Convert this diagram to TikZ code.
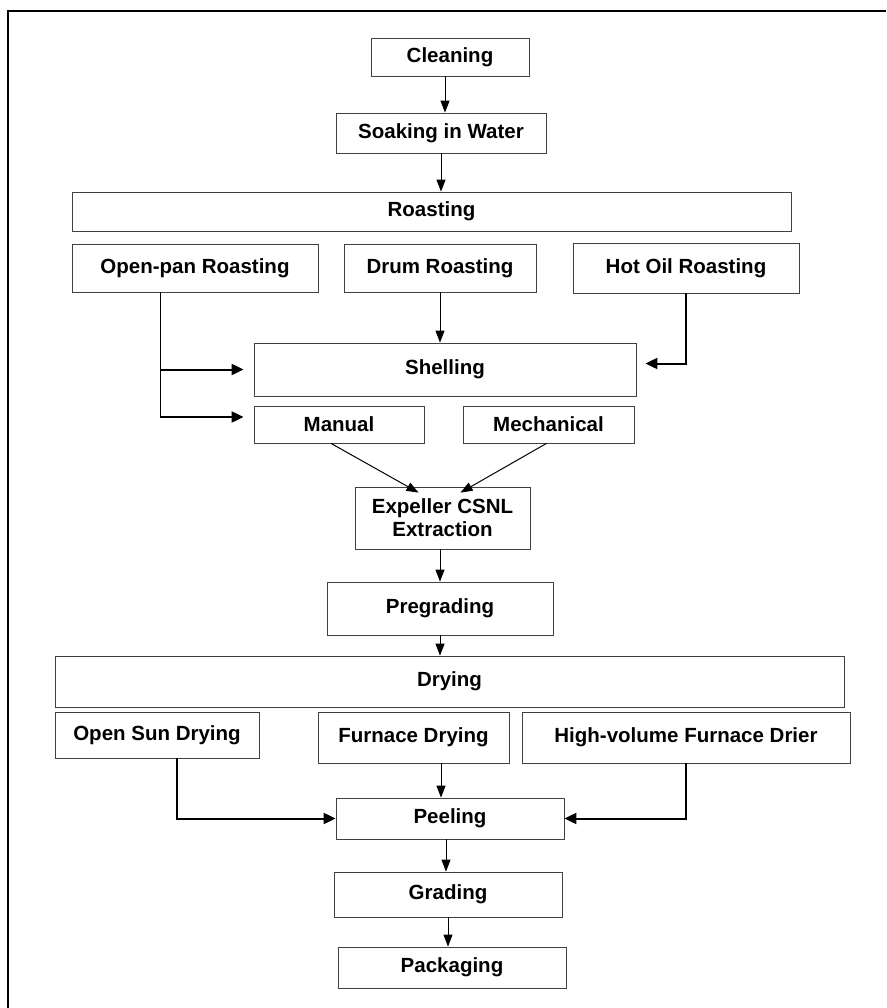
\documentclass[tikz,border=0pt]{standalone}
\usepackage{fontspec}
\setmainfont{Liberation Sans}
\usetikzlibrary{arrows.meta}

\tikzset{
  box/.style = {draw = black!75, line width = 0.8pt, inner sep = 0pt,
    font = \bfseries\fontsize{20.5}{23}\selectfont, align = center},
  arr/.style = {line width = 1pt, -{Triangle[length = 12pt, width = 9pt]}},
  wide/.style = {line width = 2pt, -{Triangle[length = 12pt, width = 11pt]}}
}

\begin{document}
\begin{tikzpicture}[x = 1pt, y = -1pt]
        \useasboundingbox (0, 0) rectangle (886, 1008);
        \draw [line width = 2.6pt] (8, 1008) -- (8, 11) -- (886, 11);

        \node (clean) at (450, 57) [box, minimum width = 158, minimum height = 38] {Cleaning};
        \node (soak) at (441, 133) [box, minimum width = 210, minimum height = 40] {Soaking in Water};
        \node (roast) at (431.5, 211.5) [box, minimum width = 719, minimum height = 39] {Roasting};
        \node (openpan) at (195, 268) [box, minimum width = 246, minimum height = 48] {Open-pan Roasting};
        \node (drum) at (440, 268) [box, minimum width = 192, minimum height = 48] {Drum Roasting};
        \node (hotoil) at (686, 268) [box, minimum width = 226, minimum height = 50] {Hot Oil Roasting};
        \node (shell) at (445, 369.5) [box, minimum width = 382, minimum height = 53] {Shelling};
        \node (manual) at (339, 424.5) [box, minimum width = 170, minimum height = 37] {Manual};
        \node (mech) at (548.5, 424.5) [box, minimum width = 171, minimum height = 37] {Mechanical};
        \node (expel) at (442.5, 518) [box, minimum width = 175, minimum height = 62] {Expeller CSNL\\Extraction};
        \node (pregrade) at (440, 608.5) [box, minimum width = 226, minimum height = 53] {Pregrading};
        \node (dry) at (449.5, 681.5) [box, minimum width = 789, minimum height = 51] {Drying};
        \node (opensun) at (157, 735) [box, minimum width = 204, minimum height = 46] {Open Sun Drying};
        \node (furnace) at (413.5, 737.5) [box, minimum width = 191, minimum height = 51] {Furnace Drying};
        \node (highvol) at (686, 737.5) [box, minimum width = 328, minimum height = 51] {High-volume Furnace Drier};
        \node (peel) at (450, 818.5) [box, minimum width = 228, minimum height = 41] {Peeling};
        \node (grade) at (448, 894.5) [box, minimum width = 228, minimum height = 45] {Grading};
        \node (pack) at (452, 967.5) [box, minimum width = 228, minimum height = 41] {Packaging};
        \coordinate (opline) at (160, 417);

        \draw [arr] ([xshift = -5]clean.south) -- ([xshift = -5]clean.south |- soak.north);
        \draw [arr] (soak) -- (soak |- roast.north);
        \draw [arr] (drum) -- (drum |- shell.north);
        \draw [line width = 1pt] (openpan.south -| opline) -- (opline);
        \draw [wide] (opline |- shell.west) -- ([xshift = -10]shell.west);
        \draw [wide] (opline) -- ([xshift = -10]manual.west |- opline);
        \draw [wide] (hotoil.south) |- ([xshift = 9, yshift = 6]shell.east);
        \draw [arr] ([xshift = -8]manual.south) -- ([xshift = -24, yshift = -6]expel.north);
        \draw [arr] ([xshift = -2]mech.south) -- ([xshift = 18, yshift = -6]expel.north);
        \draw [arr] (pregrade.north |- expel.south) -- (pregrade.north);
        \draw [arr] (pregrade) -- (pregrade |- dry.north);
        \draw [wide] ([xshift = 20]opensun.south) |- (peel.west);
        \draw [arr] ([xshift = -9]peel.north |- furnace.south) -- ([xshift = -9]peel.north);
        \draw [wide] (highvol.south) |- (peel.east);
        \draw [arr] ([xshift = -4]peel.south) -- ([xshift = -4]peel.south |- grade.north);
        \draw [arr] (grade.south) -- (grade.south |- pack.north);
    \end{tikzpicture}
\end{document}
